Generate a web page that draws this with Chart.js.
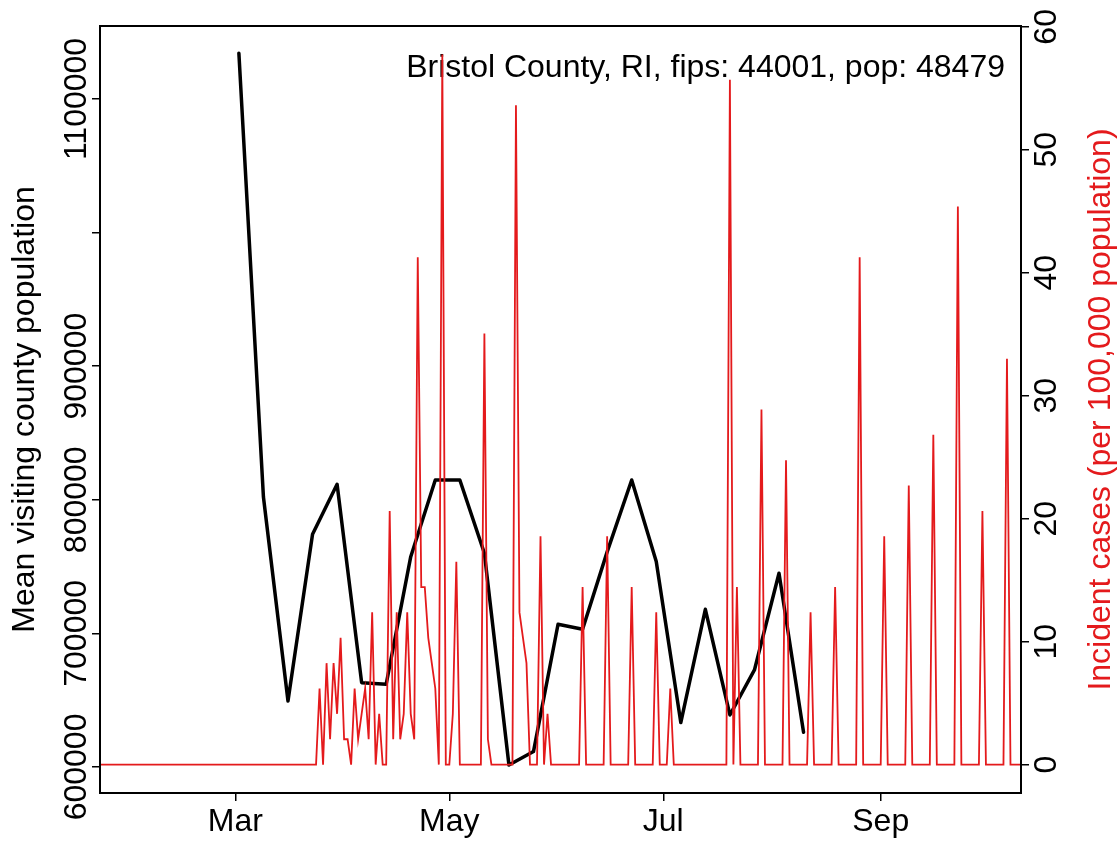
<!DOCTYPE html>
<html>
<head>
<meta charset="utf-8">
<script src="https://cdn.jsdelivr.net/npm/chart.js@4"></script>
<style>
  body { margin: 0; background: #fff; }
</style>
</head>
<body>
<canvas id="mobChart" width="1119" height="842"></canvas>
<script>
// x values are days counted from 2020-03-01
const weekDays = [1, 8, 15, 22, 29, 36, 43, 50, 57, 64, 71, 78, 85, 92, 99, 106, 113, 120, 127, 134, 141, 148, 155, 162];
const visitPop = [1134200, 802000, 649400, 774200, 811600, 663100, 661900, 757400, 814800, 814800, 760000, 601500,
                  611500, 706800, 703100, 761000, 814800, 753700, 633200, 718000, 638900, 672600, 745000, 626000];

// daily incident cases per 100,000, days not listed are 0
const caseFirstDay = -39;
const caseLastDay = 225;
const caseDays = [24, 26, 27, 28, 29, 30, 31, 32, 34, 35, 36, 37, 38, 39, 41, 44, 45, 46, 47, 48, 49, 50, 51,
                  52, 53, 54, 55, 56, 57, 59, 62, 63, 71, 72, 80, 81, 82, 83, 87, 89, 99, 106, 113, 120, 124,
                  141, 143, 150, 157, 164, 171, 178, 185, 192, 199, 206, 213, 220];
const caseRates = [6.19, 8.25, 2.06, 8.25, 4.13, 10.31, 2.06, 2.06, 6.19, 2.06, 4.13, 6.19, 2.06, 12.38, 4.13, 20.63, 2.06, 12.38, 2.06, 4.13, 12.38, 4.13, 2.06,
                   41.26, 14.44, 14.44, 10.31, 8.25, 6.19, 57.76, 4.13, 16.50, 35.07, 2.06, 53.63, 12.38, 10.31, 8.25, 18.57, 4.13, 14.44, 18.57, 14.44, 12.38, 6.19,
                   55.69, 14.44, 28.88, 24.75, 12.38, 14.44, 41.26, 18.57, 22.69, 26.82, 45.38, 20.63, 33.01];

const monthTicks = [0, 61, 122, 184];
const monthLabels = ['Mar', 'May', 'Jul', 'Sep'];
const leftTicks = [600000, 700000, 800000, 900000, 1000000, 1100000];
const leftTickLabels = ['600000', '700000', '800000', '900000', '', '1100000'];
const rightTicks = [0, 10, 20, 30, 40, 50, 60];

const titleText = 'Bristol County, RI, fips: 44001, pop: 48479';
const leftTitle = 'Mean visiting county population';
const rightTitle = 'Incident cases (per 100,000 population)';

const RED = '#E41A1C';
const FONT = '"Liberation Sans", Arial, sans-serif';
const FS = 32;

const visitPoints = weekDays.map((d, i) => ({x: d, y: visitPop[i]}));

const casePoints = [];
for (let d = caseFirstDay; d <= caseLastDay; d++) {
    const k = caseDays.indexOf(d);
    casePoints.push({x: d, y: k >= 0 ? caseRates[k] : 0});
}

const framePlugin = {
    id: 'frame',
    beforeDatasetsDraw: (chart) => {
        const {ctx, chartArea: a} = chart;
        ctx.save();
        ctx.font = FS + 'px ' + FONT;
        ctx.fillStyle = '#000';
        ctx.textAlign = 'right';
        ctx.textBaseline = 'alphabetic';
        ctx.fillText(titleText, a.right - 16, a.top + 51);
        ctx.restore();
    },
    afterDraw: (chart) => {
        const {ctx, chartArea: a} = chart;
        ctx.save();
        ctx.strokeStyle = '#000';
        ctx.lineWidth = 2;
        ctx.strokeRect(a.left, a.top, a.right - a.left, a.bottom - a.top);
        ctx.translate(1110, (a.top + a.bottom) / 2);
        ctx.rotate(-Math.PI / 2);
        ctx.font = FS + 'px ' + FONT;
        ctx.fillStyle = RED;
        ctx.textAlign = 'center';
        ctx.textBaseline = 'alphabetic';
        ctx.fillText(rightTitle, 0, 0);
        ctx.restore();
    }
};

const tickGrid = {drawOnChartArea: false, color: '#000', lineWidth: 1.5, tickLength: 8};

new Chart(document.getElementById('mobChart'), {
    type: 'line',
    data: {
        datasets: [{
            label: 'cases',
            data: casePoints,
            yAxisID: 'y2',
            borderColor: RED,
            borderWidth: 1.8,
            pointRadius: 0,
            order: 0
        }, {
            label: 'visiting',
            data: visitPoints,
            yAxisID: 'y',
            borderColor: '#000',
            borderWidth: 3.5,
            borderJoinStyle: 'round',
            borderCapStyle: 'round',
            pointRadius: 0,
            order: 1
        }]
    },
    options: {
        responsive: false,
        animation: false,
        devicePixelRatio: 1,
        layout: {padding: {top: 26, left: 0, right: 0, bottom: 0}, autoPadding: false},
        plugins: {legend: {display: false}, tooltip: {enabled: false}},
        scales: {
            x: {
                type: 'linear',
                min: -38.6,
                max: 224,
                afterBuildTicks: (s) => { s.ticks = monthTicks.map(v => ({value: v})); },
                afterFit: (s) => { s.height = 49; },
                ticks: {
                    callback: (v, i) => monthLabels[i],
                    autoSkip: false,
                    maxRotation: 0,
                    color: '#000',
                    padding: 2,
                    font: {family: FONT, size: FS}
                },
                grid: tickGrid,
                border: {display: false}
            },
            y: {
                position: 'left',
                min: 580500,
                max: 1154600,
                afterBuildTicks: (s) => { s.ticks = leftTicks.map(v => ({value: v})); },
                afterFit: (s) => { s.width = 100; },
                ticks: {
                    callback: (v, i) => leftTickLabels[i],
                    minRotation: 90,
                    maxRotation: 90,
                    crossAlign: 'center',
                    padding: -46,
                    color: '#000',
                    font: {family: FONT, size: FS}
                },
                title: {
                    display: true,
                    text: leftTitle,
                    color: '#000',
                    padding: {top: 6, bottom: 0},
                    font: {family: FONT, size: FS}
                },
                grid: tickGrid,
                border: {display: false}
            },
            y2: {
                position: 'right',
                min: -2.31,
                max: 60.07,
                afterBuildTicks: (s) => { s.ticks = rightTicks.map(v => ({value: v})); },
                afterFit: (s) => { s.width = 98; },
                ticks: {
                    minRotation: 90,
                    maxRotation: 90,
                    crossAlign: 'center',
                    padding: 0,
                    color: '#000',
                    font: {family: FONT, size: FS}
                },
                grid: tickGrid,
                border: {display: false}
            }
        }
    },
    plugins: [framePlugin]
});
</script>
</body>
</html>
